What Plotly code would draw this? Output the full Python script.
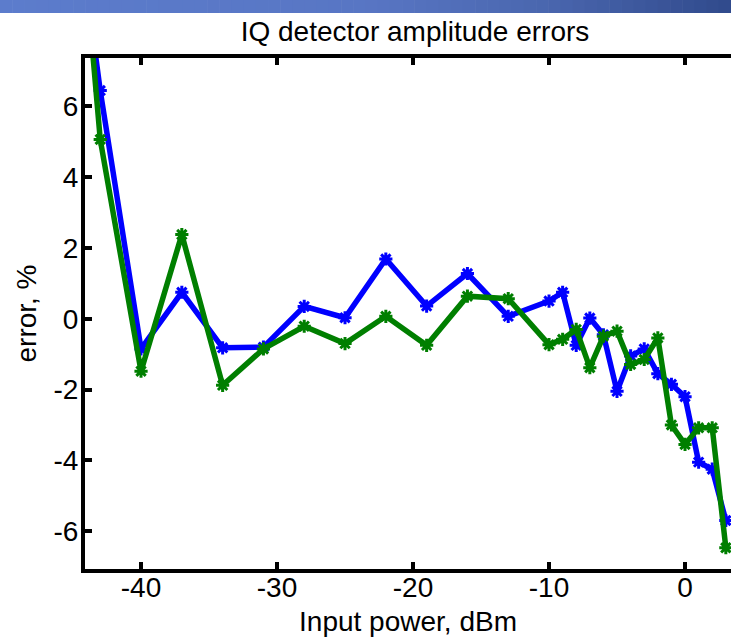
import plotly.graph_objects as go

# ---- data ----
power_dbm = [-44, -43, -40, -37, -34, -31, -28, -25, -22, -19, -16, -13,
             -10, -9, -8, -7, -6, -5, -4, -3, -2, -1, 0, 1, 2, 3]
err_blue = [9.35, 6.45, -0.85, 0.75, -0.82, -0.80, 0.35, 0.03, 1.69, 0.36, 1.28, 0.07,
            0.50, 0.75, -0.75, 0.02, -0.45, -2.05, -1.05, -0.85, -1.55, -1.85, -2.20, -4.05, -4.25, -5.70]
err_green = [9.5, 5.07, -1.48, 2.38, -1.88, -0.85, -0.21, -0.70, 0.07, -0.75, 0.64, 0.57,
             -0.73, -0.58, -0.30, -1.38, -0.49, -0.35, -1.29, -1.15, -0.54, -3.00, -3.55, -3.08, -3.08, -6.47]

x_ticks = [-40, -30, -20, -10, 0]
x_tick_text = ["-40", "-30", "-20", "-10", "0"]
y_ticks = [-6, -4, -2, 0, 2, 4, 6]
y_tick_text = ["-6", "-4", "-2", "0", "2", "4", "6"]

title_text = "IQ detector amplitude errors"
x_label = "Input power, dBm"
y_label = "error, %"

W, H = 731, 641
L, R, T, B = 85, 0, 58, 72
FONT = "Liberation Sans, Arial, Helvetica, sans-serif"

fig = go.Figure()
for ys, col in [(err_blue, "#0000ff"), (err_green, "#007f00")]:
    fig.add_trace(go.Scatter(
        x=power_dbm, y=ys, mode="lines+markers",
        line=dict(color=col, width=5.5),
        marker=dict(symbol="asterisk-open", size=11, color=col,
                    line=dict(color=col, width=3)),
        showlegend=False, hoverinfo="skip"))

# slide header gradient band (decoration)
pw, ph = W - L - R, H - T - B
def px_x(p):
    return (p - L) / pw
def px_y(p):
    return (H - B - p) / ph
stops = [(0.0, (92, 124, 204)), (0.5, (88, 118, 196)), (0.75, (74, 102, 174)), (1.0, (48, 74, 140))]
def grad(t):
    for (t0, c0), (t1, c1) in zip(stops[:-1], stops[1:]):
        if t <= t1:
            f = (t - t0) / (t1 - t0)
            return tuple(int(round(a + (b - a) * f)) for a, b in zip(c0, c1))
    return stops[-1][1]
n = 60
shapes = []
for i in range(n):
    x0 = W * i / n
    x1 = W * (i + 1) / n + 0.6
    c = grad((i + 0.5) / n)
    shapes.append(dict(type="rect", xref="paper", yref="paper",
                       x0=px_x(x0), x1=px_x(x1), y0=px_y(13), y1=px_y(0),
                       fillcolor="rgb(%d,%d,%d)" % c, line=dict(width=0), layer="below"))

fig.update_layout(
    width=W, height=H,
    margin=dict(l=L, r=R, t=T, b=B),
    paper_bgcolor="white", plot_bgcolor="white",
    font=dict(family=FONT, size=28, color="black"),
    shapes=shapes,
    title=dict(text=title_text, x=px_x(415), xref="paper", xanchor="center",
               y=1 - 31 / H, yref="container", yanchor="middle",
               font=dict(size=28, family=FONT, color="black")),
    xaxis=dict(range=[-44.12, 3.38], tickvals=x_ticks, ticktext=x_tick_text,
               showgrid=False, zeroline=False, showline=True, linecolor="black", linewidth=4,
               mirror="ticks", ticks="inside", ticklen=7, tickwidth=4, tickcolor="black",
               ticklabelstandoff=-10,
               title=dict(text=x_label, standoff=11, font=dict(size=28)),
               tickfont=dict(size=28)),
    yaxis=dict(range=[-7.07, 7.37], tickvals=y_ticks, ticktext=y_tick_text,
               showgrid=False, zeroline=False, showline=True, linecolor="black", linewidth=4,
               mirror=False, ticks="inside", ticklen=7, tickwidth=4, tickcolor="black",
               ticklabelstandoff=-3,
               title=dict(text=y_label, standoff=10, font=dict(size=28)),
               tickfont=dict(size=28)),
)

fig.write_html("out.html")
